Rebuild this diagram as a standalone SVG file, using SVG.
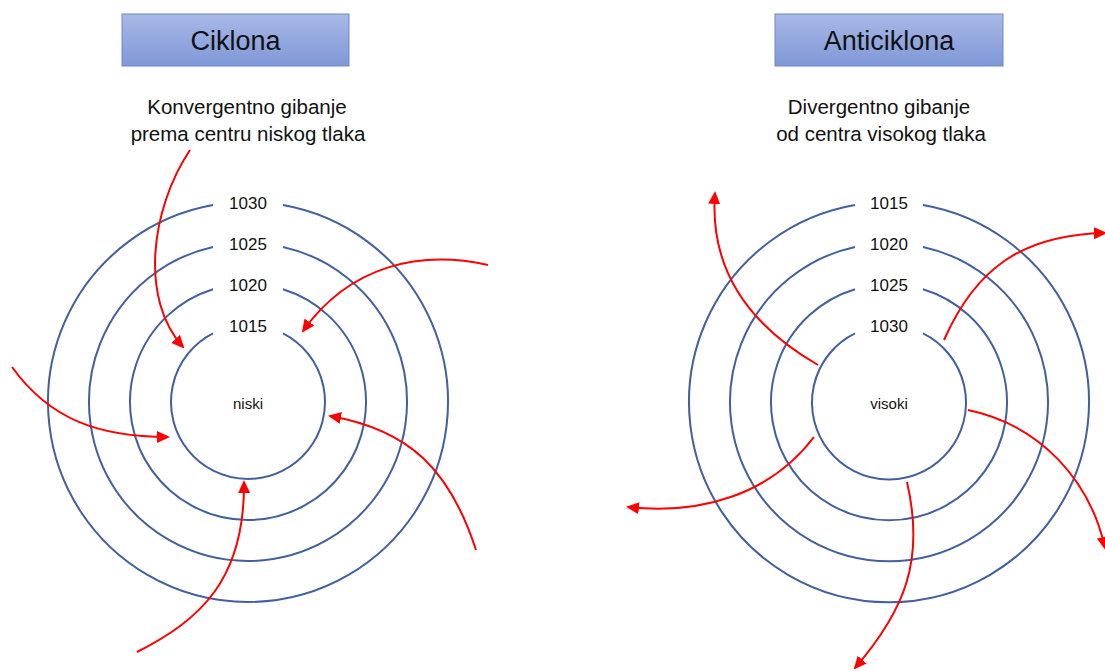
<svg xmlns="http://www.w3.org/2000/svg" width="1105" height="671" viewBox="0 0 1105 671">
<defs>
<linearGradient id="g" x1="0" y1="0" x2="0" y2="1">
<stop offset="0" stop-color="#a9b8e6"/>
<stop offset="1" stop-color="#7f98d8"/>
</linearGradient>
<marker id="ah" markerUnits="userSpaceOnUse" markerWidth="14" markerHeight="12" refX="11" refY="6" orient="auto">
<path d="M0,0 L13,6 L0,12 z" fill="#ff0000"/>
</marker>
<style>
.title{fill:url(#g);stroke:#6f87c8;stroke-width:1}
.tt{font-family:"Liberation Sans",Arial,sans-serif;font-size:27px;fill:#111;text-anchor:middle}
.sub{font-family:"Liberation Sans",Arial,sans-serif;font-size:20.5px;fill:#111;text-anchor:middle}
.lab{font-family:"Liberation Sans",Arial,sans-serif;font-size:17px;fill:#111;text-anchor:middle}
.c{font-family:"Liberation Sans",Arial,sans-serif;font-size:15px;fill:#111;text-anchor:middle}
.ring{fill:none;stroke:#41609e;stroke-width:2}
.arr{fill:none;stroke:#ff0000;stroke-width:2;marker-end:url(#ah)}
</style>
</defs>
<rect width="1105" height="671" fill="#fff"/>

<g id="ciklona-title">
<rect class="title" x="122" y="14" width="227" height="52"/>
<text class="tt" x="235.5" y="50">Ciklona</text>
</g>
<g id="anticiklona-title">
<rect class="title" x="775" y="14" width="228" height="52"/>
<text class="tt" x="889" y="50">Anticiklona</text>
</g>
<g id="ciklona-desc">
<text class="sub" x="247" y="114">Konvergentno gibanje</text>
<text class="sub" x="248" y="141">prema centru niskog tlaka</text>
</g>
<g id="anticiklona-desc">
<text class="sub" x="879" y="114">Divergentno gibanje</text>
<text class="sub" x="881" y="141">od centra visokog tlaka</text>
</g>

<g id="ciklona-isobars">
<path class="ring" d="M213,333.4 A77,77 0 1 0 283,333.4"/>
<path class="ring" d="M213,289.3 A118,118 0 1 0 283,289.3"/>
<path class="ring" d="M213,246.9 A159,159 0 1 0 283,246.9"/>
<path class="ring" d="M213,205.1 A200,200 0 1 0 283,205.1"/>
<text class="lab" x="248" y="209">1030</text>
<text class="lab" x="248" y="250">1025</text>
<text class="lab" x="248" y="291">1020</text>
<text class="lab" x="248" y="332">1015</text>
<text class="c" x="248" y="409">niski</text>
</g>

<g id="anticiklona-isobars">
<path class="ring" d="M855,333.4 A77,77 0 1 0 923,333.4"/>
<path class="ring" d="M855,289.3 A118,118 0 1 0 923,289.3"/>
<path class="ring" d="M855,246.9 A159,159 0 1 0 923,246.9"/>
<path class="ring" d="M855,205.1 A200,200 0 1 0 923,205.1"/>
<text class="lab" x="889" y="209">1015</text>
<text class="lab" x="889" y="250">1020</text>
<text class="lab" x="889" y="291">1025</text>
<text class="lab" x="889" y="332">1030</text>
<text class="c" x="889" y="409">visoki</text>
</g>

<g id="connectors">
<path class="arr" d="M190,150 C150,210 140,300 183,347"/>
<path class="arr" d="M488,265 C420,250 350,265 303,331"/>
<path class="arr" d="M12,367 C50,420 100,437 168,437"/>
<path class="arr" d="M137,652 C200,620 245,580 244,482"/>
<path class="arr" d="M476,550 C450,470 410,430 330,416"/>
<path class="arr" d="M818,365 C740,320 710,260 715,193"/>
<path class="arr" d="M944,340 C975,270 1020,235 1105,233"/>
<path class="arr" d="M968,410 C1040,425 1090,480 1105,548"/>
<path class="arr" d="M907,482 C925,560 905,610 855,668"/>
<path class="arr" d="M814,437 C770,495 700,515 628,507"/>
</g>
</svg>
